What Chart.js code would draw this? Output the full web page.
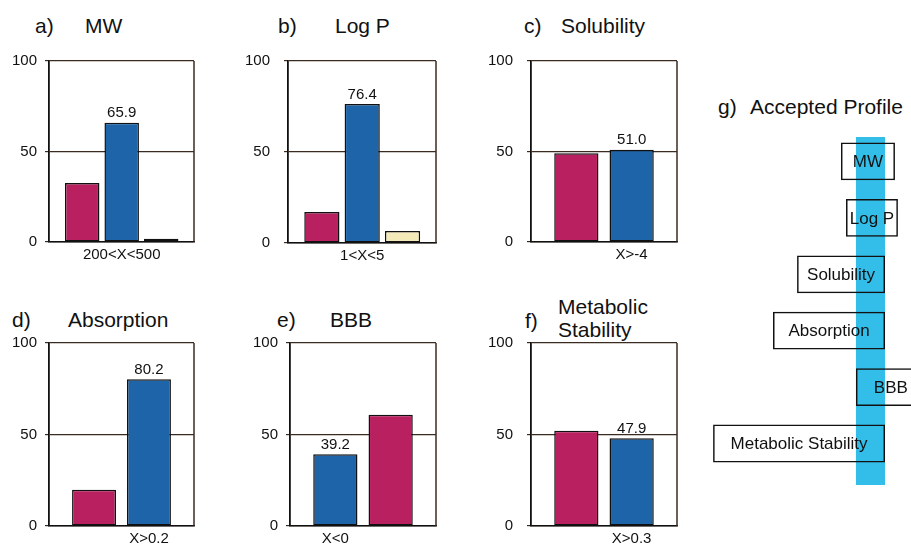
<!doctype html>
<html lang="en">
<head>
<meta charset="utf-8">
<title>ADME property profile</title>
<script src="https://cdn.jsdelivr.net/npm/chart.js@4.4.1/dist/chart.umd.min.js"></script>
<style>
  html, body { margin: 0; padding: 0; background: #fff; }
  body { width: 911px; height: 547px; position: relative; overflow: hidden; font-family: "Liberation Sans", Arial, sans-serif; color: #111; }
  .panel { position: absolute; }
  .t { position: absolute; font-size: 21px; line-height: 21px; white-space: nowrap; }
</style>
</head>
<body>
<!-- panel titles -->
<div class="t" style="left:35px;top:15px">a)</div><div class="t" style="left:85px;top:15px">MW</div>
<div class="t" style="left:278px;top:15px">b)</div><div class="t" style="left:335px;top:15px">Log P</div>
<div class="t" style="left:524px;top:15px">c)</div><div class="t" style="left:561px;top:15px">Solubility</div>
<div class="t" style="left:12px;top:309px">d)</div><div class="t" style="left:68px;top:309px">Absorption</div>
<div class="t" style="left:277px;top:309px">e)</div><div class="t" style="left:330px;top:309px">BBB</div>
<div class="t" style="left:525px;top:310px">f)</div><div class="t" style="left:558px;top:296px">Metabolic</div><div class="t" style="left:558px;top:319px">Stability</div>
<div class="t" style="left:718px;top:96px">g)</div><div class="t" style="left:750px;top:96px">Accepted Profile</div>

<div class="panel" style="left:5px;top:51px;width:193px;height:215px"><canvas id="mw"></canvas></div>
<div class="panel" style="left:244px;top:51px;width:196px;height:216px"><canvas id="logp"></canvas></div>
<div class="panel" style="left:487px;top:51px;width:194px;height:215px"><canvas id="sol"></canvas></div>
<div class="panel" style="left:5px;top:333px;width:193px;height:217px"><canvas id="abs"></canvas></div>
<div class="panel" style="left:246px;top:333px;width:194px;height:217px"><canvas id="bbb"></canvas></div>
<div class="panel" style="left:487px;top:333px;width:194px;height:217px"><canvas id="met"></canvas></div>
<div class="panel" style="left:700px;top:137px;width:211px;height:348px"><canvas id="profile"></canvas></div>

<script>
// percentages of compounds per class; the blue bar is the accepted range
const mwLabels  = ['', '200<X<500', ''];
const mwValues  = [32.6, 65.9, 1.8];
const logpLabels = ['', '1<X<5', ''];
const logpValues = [17.0, 76.4, 6.6];
const solLabels = ['', 'X>-4'];
const solValues = [49.0, 51.0];
const absLabels = ['', 'X>0.2'];
const absValues = [19.8, 80.2];
const bbbLabels = ['X<0', ''];
const bbbValues = [39.2, 60.8];
const metLabels = ['', 'X>0.3'];
const metValues = [52.1, 47.9];

const yTicks = [0, 50, 100];

// g) accepted profile: property windows on a common relative scale
const profileNames = ['MW', 'Log P', 'Solubility', 'Absorption', 'BBB', 'Metabolic Stability'];
const profileRows  = [1, 2, 3, 4, 5, 6];
const profileLow   = [66.8, 69.2, 46.0, 34.6, 73.9, 6.2];
const profileHigh  = [92.4, 93.8, 87.7, 87.7, 107.0, 87.7];
const acceptedBand = [73.9, 87.7];

const MAG = '#B8205F', BLUE = '#1D64A9', CREAM = '#F4E9B8', CYAN = '#33BEEA';
const FONT = '"Liberation Sans", Arial, sans-serif';
const GRID = '#3a2a20';

const frame = {
  id: 'frame',
  beforeDatasetsDraw(chart) {
    const a = chart.chartArea, c = chart.ctx;
    c.save();
    c.strokeStyle = GRID;
    c.lineWidth = 1.5;
    c.beginPath();
    c.moveTo(a.right, a.top);
    c.lineTo(a.right, a.bottom);
    c.stroke();
    c.restore();
  },
};

const valueLabel = {
  id: 'valueLabel',
  afterDatasetsDraw(chart) {
    const idx = chart.options.plugins.valueLabel.index;
    const ds = chart.data.datasets[0];
    const bar = chart.getDatasetMeta(0).data[idx];
    const c = chart.ctx;
    c.save();
    c.font = '15px ' + FONT;
    c.fillStyle = '#111';
    c.textAlign = 'center';
    c.textBaseline = 'bottom';
    c.fillText(ds.data[idx].y.toFixed(1), bar.x, bar.y - 2);
    c.restore();
  },
};

function barPanel(id, labels, values, colors, labelIdx, tickPad) {
  const three = values.length === 3;
  const slots = labels.map((_, i) => i + 1);
  new Chart(document.getElementById(id), {
    type: 'bar',
    data: {
      datasets: [{
        data: slots.map((s, i) => ({ x: s, y: values[i] })),
        backgroundColor: colors,
        borderColor: '#111',
        borderWidth: 1.5,
        borderSkipped: false,
        categoryPercentage: 1,
        barPercentage: three ? 0.873 : 0.8,
      }],
    },
    options: {
      responsive: true,
      maintainAspectRatio: false,
      animation: false,
      layout: { padding: { top: 10, right: 4, left: 0, bottom: 0 } },
      plugins: {
        legend: { display: false },
        tooltip: { enabled: false },
        valueLabel: { index: labelIdx },
      },
      scales: {
        x: {
          type: 'linear',
          offset: false,
          min: three ? 0.16 : 0.18,
          max: three ? 3.83 : 2.82,
          afterBuildTicks: (s) => { s.ticks = slots.map((v) => ({ value: v })); },
          grid: { display: false, drawTicks: false },
          border: { display: true, color: '#111', width: 1.5 },
          ticks: {
            color: '#111', padding: 4, font: { family: FONT, size: 15 },
            autoSkip: false, maxRotation: 0,
            callback: (v) => labels[v - 1] ?? '',
          },
          afterFit: (s) => { s.height = 24; s.paddingLeft = 0; s.paddingRight = 0; },
        },
        y: {
          min: 0,
          max: 100,
          afterBuildTicks: (s) => { s.ticks = yTicks.map((v) => ({ value: v })); },
          grid: { color: GRID, lineWidth: 1.2, tickLength: 4 },
          border: { color: '#111', width: 1.8 },
          ticks: { color: '#111', padding: tickPad, font: { family: FONT, size: 15 } },
          afterFit: (s) => { s.width = 44; s.paddingTop = 8; s.paddingBottom = 8; },
        },
      },
    },
    plugins: [frame, valueLabel],
  });
}

barPanel('mw',   mwLabels,   mwValues,   [MAG, BLUE, CREAM], 1, 8);
barPanel('logp', logpLabels, logpValues, [MAG, BLUE, CREAM], 1, 14);
barPanel('sol',  solLabels,  solValues,  [MAG, BLUE], 1, 14);
barPanel('abs',  absLabels,  absValues,  [MAG, BLUE], 1, 8);
barPanel('bbb',  bbbLabels,  bbbValues,  [BLUE, MAG], 0, 8);
barPanel('met',  metLabels,  metValues,  [MAG, BLUE], 1, 14);

// cyan accepted band behind the boxes, then box names on top
const band = {
  id: 'band',
  beforeDatasetsDraw(chart) {
    const x = chart.scales.x, a = chart.chartArea, c = chart.ctx;
    const x0 = x.getPixelForValue(acceptedBand[0]);
    const x1 = x.getPixelForValue(acceptedBand[1]);
    c.save();
    c.fillStyle = CYAN;
    c.fillRect(x0, a.top, x1 - x0, a.bottom - a.top);
    c.restore();
  },
  afterDatasetsDraw(chart) {
    const c = chart.ctx;
    c.save();
    c.font = '17px ' + FONT;
    c.fillStyle = '#111';
    c.textAlign = 'center';
    c.textBaseline = 'middle';
    chart.getDatasetMeta(0).data.forEach((el, i) => {
      const p = el.getCenterPoint();
      c.fillText(profileNames[i], p.x, p.y + 1);
    });
    c.restore();
  },
};

new Chart(document.getElementById('profile'), {
  type: 'bar',
  data: {
    datasets: [{
      data: profileRows.map((r, i) => ({ y: r, x: [profileLow[i], profileHigh[i]] })),
      backgroundColor: 'rgba(0,0,0,0)',
      borderColor: '#111',
      borderWidth: 1.5,
      borderSkipped: false,
      categoryPercentage: 1,
      barPercentage: 0.67,
    }],
  },
  options: {
    indexAxis: 'y',
    responsive: true,
    maintainAspectRatio: false,
    animation: false,
    layout: { padding: 0 },
    plugins: { legend: { display: false }, tooltip: { enabled: false } },
    scales: {
      x: { type: 'linear', min: 0, max: 100, display: false },
      y: {
        type: 'linear', offset: false, min: 0.566, max: 6.736, reverse: true, display: false,
        afterBuildTicks: (s) => { s.ticks = profileRows.map((v) => ({ value: v })); },
      },
    },
  },
  plugins: [band],
});
</script>
</body>
</html>
